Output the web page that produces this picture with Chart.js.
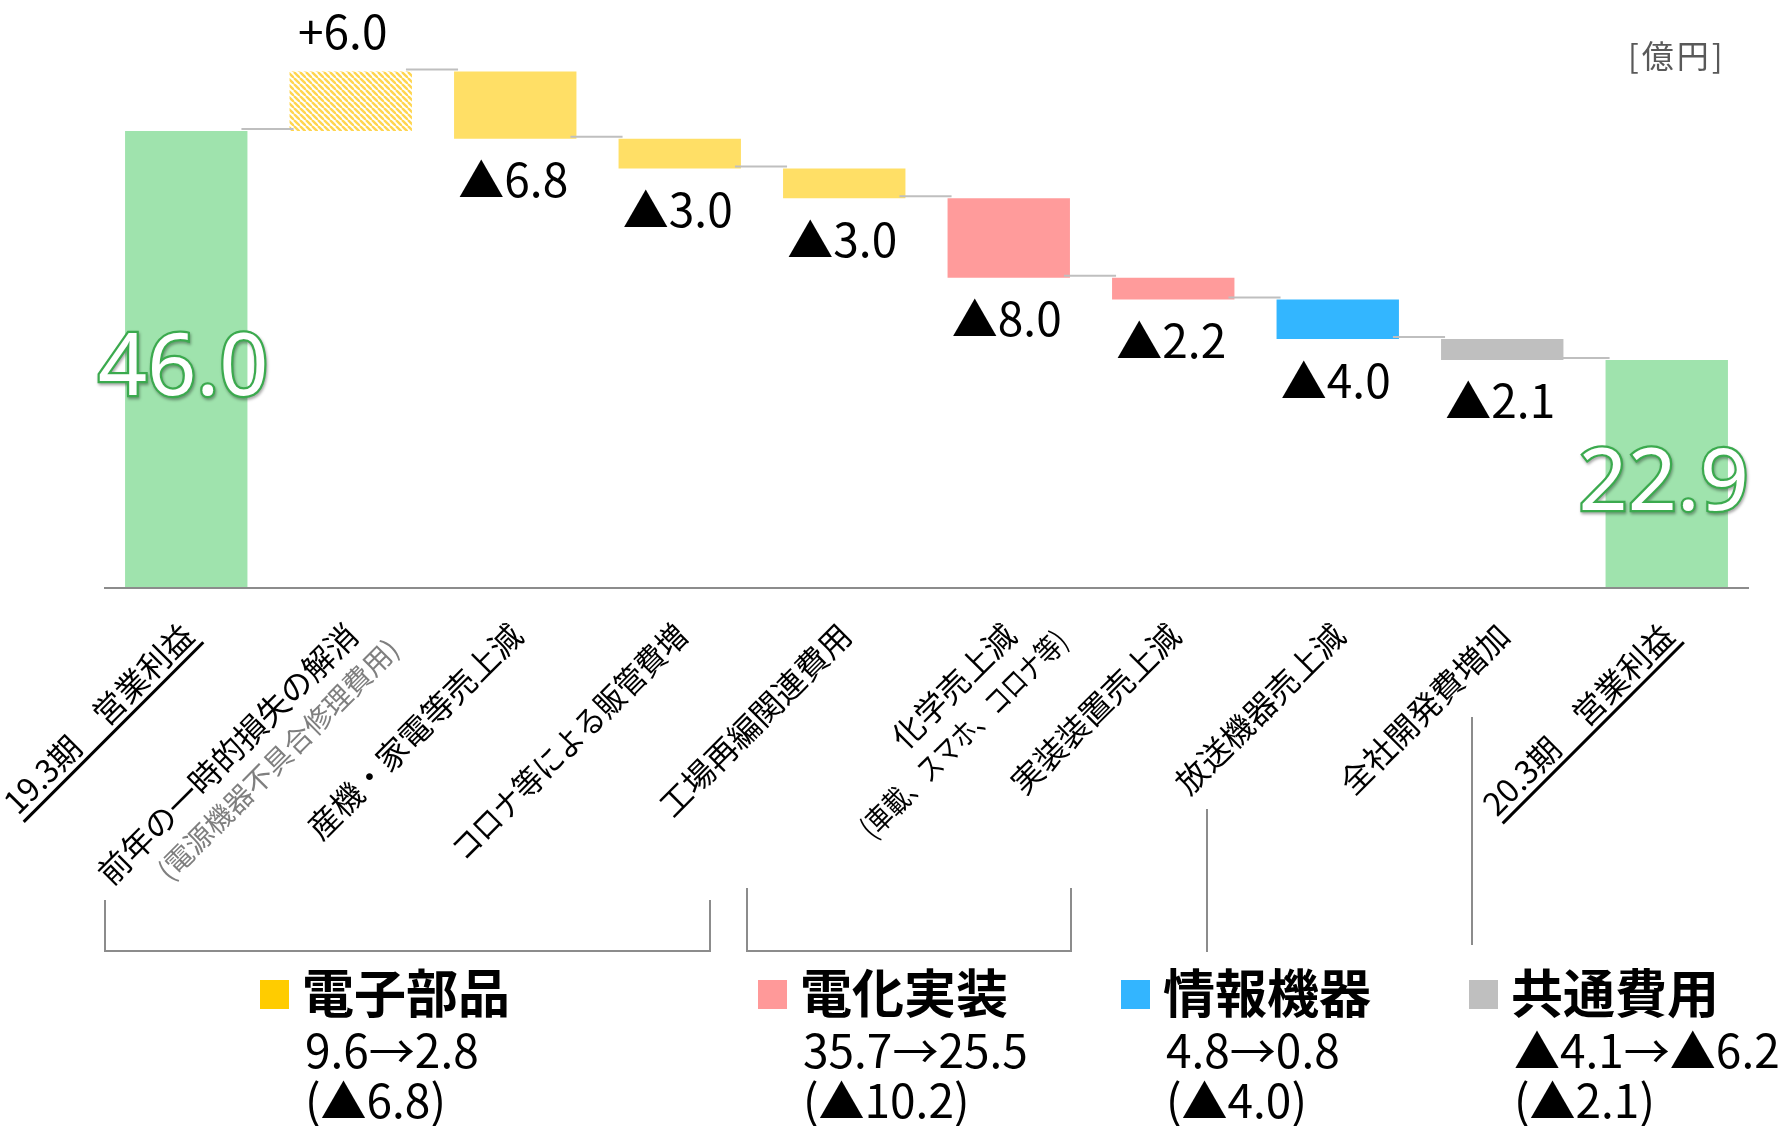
<!DOCTYPE html>
<html lang="ja">
<head>
<meta charset="utf-8">
<script src="https://cdn.jsdelivr.net/npm/chart.js@4.4.0/dist/chart.umd.min.js"></script>
<style>
  html, body { margin:0; padding:0; background:#fff; }
  body { width:1779px; height:1126px; position:relative; overflow:hidden; font-family:"Noto Sans CJK JP","Noto Sans",sans-serif; }
  #c { position:absolute; left:0; top:0; }
  .unit { position:absolute; left:1628px; top:38px; font-size:32px; letter-spacing:3px; line-height:1; color:#595959; }
  .bracket { position:absolute; border:2px solid #8c8c8c; border-top:none; box-sizing:border-box; }
  .vline { position:absolute; width:0; border-left:2px solid #8c8c8c; }
  .grp { position:absolute; top:0; }
  .grp .sw { position:absolute; width:29px; height:29px; top:980px; }
  .grp .ttl { position:absolute; top:965px; font-size:52px; font-weight:bold; line-height:1; white-space:nowrap; }
  .grp .num { position:absolute; font-size:46px; line-height:1; white-space:nowrap; }
</style>
</head>
<body>
<canvas id="c" width="1779" height="1126"></canvas>
<div class="unit">[億円]</div>
<div class="bracket" style="left:104px; top:900px; width:607px; height:52px;"></div>
<div class="bracket" style="left:746px; top:888px; width:326px; height:64px;"></div>
<div class="vline" style="left:1206px; top:809px; height:143px;"></div>
<div class="vline" style="left:1471px; top:717px; height:228px;"></div>
<div id="groups"></div>
<script>
  // category labels (second line is a note, empty when none)
  const categories = ['19.3期　営業利益', '前年の一時的損失の解消', '産機・家電等売上減', 'コロナ等による販管費増',
    '工場再編関連費用', '化学売上減', '実装装置売上減', '放送機器売上減', '全社開発費増加', '20.3期　営業利益'];
  const categoryNotes = ['', '(電源機器不具合修理費用)', '', '', '', '(車載、スマホ、コロナ等)', '', '', '', ''];

  // waterfall values [億円]
  const startValue = 46.0;
  const changes = [6.0, -6.8, -3.0, -3.0, -8.0, -2.2, -4.0, -2.1];
  const endValue = 22.9;

  // segment summary below the chart
  const groupNames = ['電子部品', '電化実装', '情報機器', '共通費用'];
  const groupChanges = ['9.6→2.8', '35.7→25.5', '4.8→0.8', '▲4.1→▲6.2'];
  const groupDiffs = ['(▲6.8)', '(▲10.2)', '(▲4.0)', '(▲2.1)'];

  // styles
  const groupColors = ['#FFCC00', '#FF9999', '#33B5FF', '#BFBFBF'];
  const groupLeft = [260, 758, 1121, 1469];
  const GREEN = '#9FE3AD', YELLOW = '#FFDF66', PINK = '#FF9B9B', BLUE = '#33B6FF', GRAY = '#BFBFBF';
  // the original font is narrower for kana, so squeeze a few labels to its length
  const labelFit = { 0: 252, 3: 318, 9: 258 };

  // hatch for the one positive item
  function hatch(color){
    const s = 6;
    const p = document.createElement('canvas');
    p.width = s; p.height = s;
    const g = p.getContext('2d');
    g.strokeStyle = color;
    g.lineWidth = 2.4;
    for (const k of [-s, 0, s]) {
      g.beginPath(); g.moveTo(k, 0); g.lineTo(k + s, s); g.stroke();
    }
    return g.createPattern(p, 'repeat');
  }

  const barColors = [GREEN, hatch('#FFD54F'), YELLOW, YELLOW, YELLOW, PINK, PINK, BLUE, GRAY, GREEN];

  // floating ranges for the waterfall
  const ranges = [[0, startValue]];
  const levels = [startValue];
  let run = startValue;
  changes.forEach(d => {
    ranges.push(d >= 0 ? [run, run + d] : [run + d, run]);
    run = Math.round((run + d) * 10) / 10;
    levels.push(run);
  });
  ranges.push([0, endValue]);
  levels.push(endValue);

  const decor = {
    id: 'decor',
    afterDatasetsDraw(chart){
      const { ctx, chartArea, scales: { x, y } } = chart;
      const bars = chart.getDatasetMeta(0).data;
      ctx.save();

      // axis line
      const y0 = y.getPixelForValue(0);
      ctx.strokeStyle = '#8c8c8c';
      ctx.lineWidth = 2;
      ctx.beginPath(); ctx.moveTo(chartArea.left, y0 + 1); ctx.lineTo(chartArea.right, y0 + 1); ctx.stroke();

      // connectors
      ctx.strokeStyle = '#BFBFBF';
      ctx.lineWidth = 2;
      for (let i = 0; i < bars.length - 1; i++) {
        const a = bars[i], b = bars[i + 1];
        const ly = y.getPixelForValue(levels[i]) - 2;
        ctx.beginPath();
        ctx.moveTo(a.x + a.width / 2 - 6, ly);
        ctx.lineTo(b.x - b.width / 2 + 4, ly);
        ctx.stroke();
      }

      // totals
      ctx.font = '86px "Noto Sans", sans-serif';
      ctx.textAlign = 'center';
      ctx.textBaseline = 'middle';
      [[0, startValue], [bars.length - 1, endValue]].forEach(([i, v]) => {
        const b = bars[i];
        const cy = (y.getPixelForValue(v) + y0) / 2 + 12;
        ctx.save();
        ctx.shadowColor = 'rgba(0,0,0,0.35)';
        ctx.shadowBlur = 3; ctx.shadowOffsetX = 1; ctx.shadowOffsetY = 2;
        ctx.lineWidth = 4.5;
        ctx.strokeStyle = '#3BAA4E';
        ctx.strokeText(v.toFixed(1), b.x - 3, cy);
        ctx.restore();
        ctx.fillStyle = '#ffffff';
        ctx.fillText(v.toFixed(1), b.x - 3, cy);
      });

      // change labels
      ctx.font = '46px "Noto Sans CJK JP", sans-serif';
      ctx.fillStyle = '#000';
      changes.forEach((d, k) => {
        const b = bars[k + 1];
        if (d >= 0) {
          ctx.fillText('+' + d.toFixed(1), b.x - 8, y.getPixelForValue(ranges[k + 1][1]) - 40);
        } else {
          ctx.fillText('▲' + Math.abs(d).toFixed(1), b.x - 2, y.getPixelForValue(ranges[k + 1][0]) + 41);
        }
      });

      // rotated category labels
      ctx.textAlign = 'right';
      ctx.textBaseline = 'alphabetic';
      categories.forEach((lab, i) => {
        const cx = x.getPixelForValue(i);
        ctx.save();
        ctx.translate(cx + 10, 638);
        ctx.rotate(-Math.PI / 4);
        ctx.font = '32px "Noto Sans CJK JP", sans-serif';
        ctx.fillStyle = '#000';
        const fit = labelFit[i];
        if (fit) ctx.fillText(lab, 0, 0, fit); else ctx.fillText(lab, 0, 0);
        if (i === 0 || i === categories.length - 1) {
          const w = Math.min(ctx.measureText(lab).width, fit || 1e9);
          ctx.lineWidth = 3;
          ctx.strokeStyle = '#000';
          ctx.beginPath(); ctx.moveTo(-w, 8); ctx.lineTo(2, 8); ctx.stroke();
        }
        const note = categoryNotes[i];
        if (note) {
          if (i === 1) {
            ctx.font = '28px "Noto Sans CJK JP", sans-serif';
            ctx.fillStyle = '#7f7f7f';
            ctx.fillText(note, 19, 38);
          } else {
            ctx.font = '30px "Noto Sans CJK JP", sans-serif';
            ctx.fillStyle = '#000';
            ctx.fillText(note, 32, 40, 278);
          }
        }
        ctx.restore();
      });
      ctx.restore();
    }
  };

  new Chart(document.getElementById('c').getContext('2d'), {
    type: 'bar',
    data: {
      labels: categories,
      datasets: [{
        data: ranges,
        backgroundColor: barColors,
        borderWidth: 0,
        barPercentage: 0.744,
        categoryPercentage: 1
      }]
    },
    options: {
      responsive: false,
      animation: false,
      devicePixelRatio: 1,
      layout: { padding: { left: 104, right: 30, top: 2, bottom: 539 } },
      plugins: { legend: { display: false }, tooltip: { enabled: false } },
      scales: {
        x: { display: false },
        y: { display: false, min: 0, max: 59 }
      }
    },
    plugins: [decor]
  });

  // segment summary
  const host = document.getElementById('groups');
  groupNames.forEach((name, i) => {
    const g = document.createElement('div');
    g.className = 'grp';
    g.style.left = groupLeft[i] + 'px';
    g.innerHTML =
      '<div class="sw" style="left:0;background:' + groupColors[i] + '"></div>' +
      '<div class="ttl" style="left:42px">' + name + '</div>' +
      '<div class="num" style="left:45px;top:1025px">' + groupChanges[i] + '</div>' +
      '<div class="num" style="left:45px;top:1075px">' + groupDiffs[i] + '</div>';
    host.appendChild(g);
  });
</script>
</body>
</html>
